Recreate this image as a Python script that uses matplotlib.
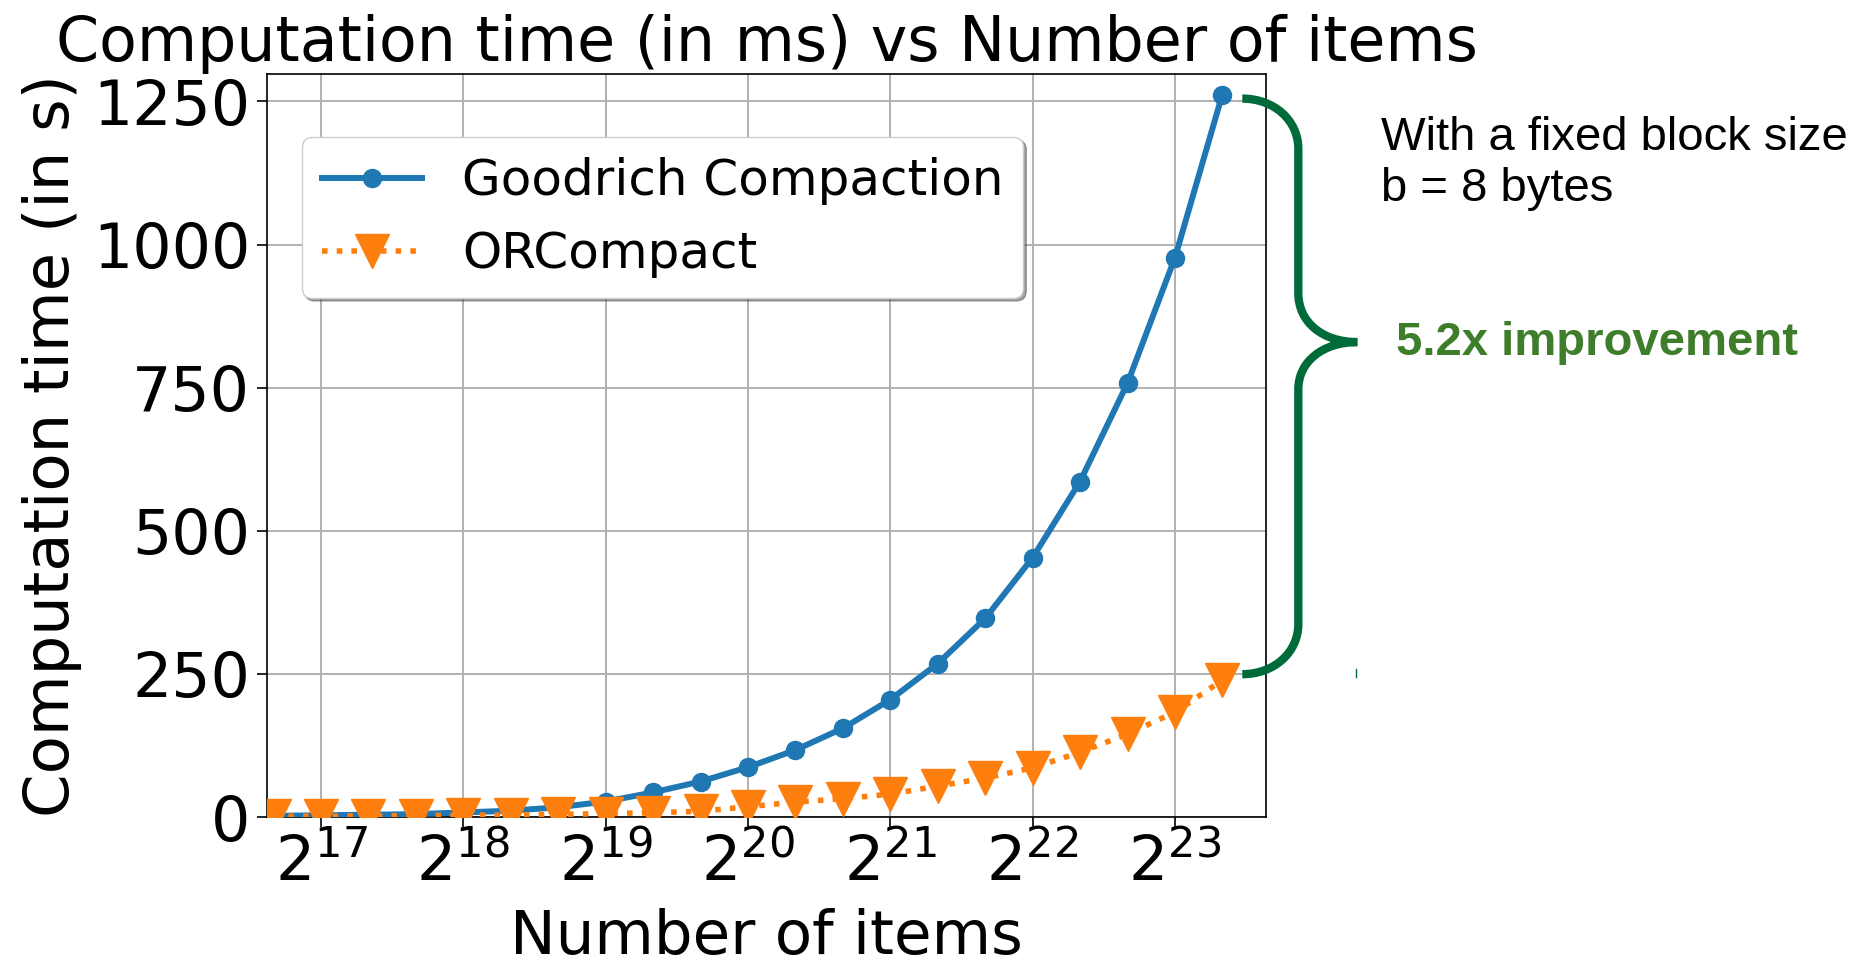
import numpy as np
import matplotlib
matplotlib.use('Agg')
import matplotlib.pyplot as plt
from matplotlib.path import Path
from matplotlib.patches import PathPatch
from matplotlib.lines import Line2D

# data (x = log2 of number of items, y = time)
item_exp = [16.667, 17.0, 17.333, 17.667, 18.0, 18.333, 18.667, 19.0, 19.333, 19.667,
            20.0, 20.333, 20.667, 21.0, 21.333, 21.667, 22.0, 22.333, 22.667, 23.0, 23.333]
goodrich = [2, 3, 4, 5, 8, 11, 17, 27, 43, 62,
            87, 117, 155, 205, 268, 347, 453, 586, 758, 977, 1262]
orcompact = [1, 1.5, 2, 2.5, 3, 3.5, 4.5, 6, 7.5, 10,
             18, 26, 32, 40, 54, 68, 86, 113, 145, 183, 239]
xtick_exp = [17, 18, 19, 20, 21, 22, 23]
yticks = [0, 250, 500, 750, 1000, 1250]

n_items = 2.0 ** np.array(item_exp)

W, H = 1875, 964
fig = plt.figure(figsize=(W / 100, H / 100), dpi=100)
ax = fig.add_axes([267 / W, 1 - 817 / H, (1266 - 267) / W, (817 - 74) / H])

ax.plot(n_items, goodrich, color='#1f77b4', marker='o', markersize=13, lw=4.3,
        label='Goodrich Compaction', zorder=3)
ax.plot(n_items, orcompact, color='#ff7f0e', marker='v', markersize=24, lw=4,
        linestyle=':', label='ORCompact', zorder=3)

ax.set_xscale('log', base=2)
ax.set_xlim(2 ** 16.62, 2 ** 23.64)
ax.set_ylim(0, 1298)
ax.set_xticks([2.0 ** e for e in xtick_exp])
ax.set_xticklabels([r'$2^{%d}$' % e for e in xtick_exp])
ax.xaxis.set_minor_locator(matplotlib.ticker.NullLocator())
ax.set_yticks(yticks)
ax.tick_params(labelsize=44.5, length=7, width=1.2, pad=5)
ax.grid(True, color='#b0b0b0', lw=1.4)
for s in ax.spines.values():
    s.set_linewidth(1.2)

ax.set_title('Computation time (in ms) vs Number of items', fontsize=44.5, pad=8)
ax.set_xlabel('Number of items', fontsize=44, labelpad=10)
ax.set_ylabel('Computation time (in s)', fontsize=45, labelpad=8)

ax.legend(loc='upper left', bbox_to_anchor=(0.035, 0.915), borderaxespad=0,
          fontsize=36, shadow=True, fancybox=True, framealpha=1.0)

# curly brace between the two last points
fig.canvas.draw()
top = ax.transData.transform((n_items[-1], goodrich[-1]))
bot = ax.transData.transform((n_items[-1], orcompact[-1]))
x0 = top[0] + 20
xv = x0 + 56
xt = x0 + 115
yt = top[1] - 4
yb = bot[1] + 6
ym = yt - 0.423 * (yt - yb)
verts = [
    (x0, yt), (x0 + 32, yt), (xv, yt - 22), (xv, yt - 50),
    (xv, ym + 49),
    (xv, ym + 20), (xt - 35, ym), (xt, ym),
    (xt - 35, ym), (xv, ym - 20), (xv, ym - 47),
    (xv, yb + 50),
    (xv, yb + 22), (x0 + 32, yb), (x0, yb),
]
codes = [Path.MOVETO, Path.CURVE4, Path.CURVE4, Path.CURVE4,
         Path.LINETO,
         Path.CURVE4, Path.CURVE4, Path.CURVE4,
         Path.CURVE4, Path.CURVE4, Path.CURVE4,
         Path.LINETO,
         Path.CURVE4, Path.CURVE4, Path.CURVE4]
verts = fig.transFigure.inverted().transform(verts)
brace = PathPatch(Path(verts, codes), facecolor='none', edgecolor='#006b3a',
                  lw=6, transform=fig.transFigure, capstyle='butt')
fig.add_artist(brace)
fig.add_artist(Line2D([1356 / W, 1356 / W], [1 - 669 / H, 1 - 677 / H],
                      color='#006b3a', lw=1, transform=fig.transFigure))

fig.text(1381 / W, 1 - 116 / H, 'With a fixed block size\nb = 8 bytes',
         fontsize=34, family='Liberation Sans', va='top', ha='left',
         linespacing=1.2)
fig.text(1396 / W, 1 - 355 / H, '5.2x improvement', fontsize=34,
         family='Liberation Sans', weight='bold', color='#3e7e2a',
         va='baseline', ha='left')

fig.savefig('out.png', dpi=100)
